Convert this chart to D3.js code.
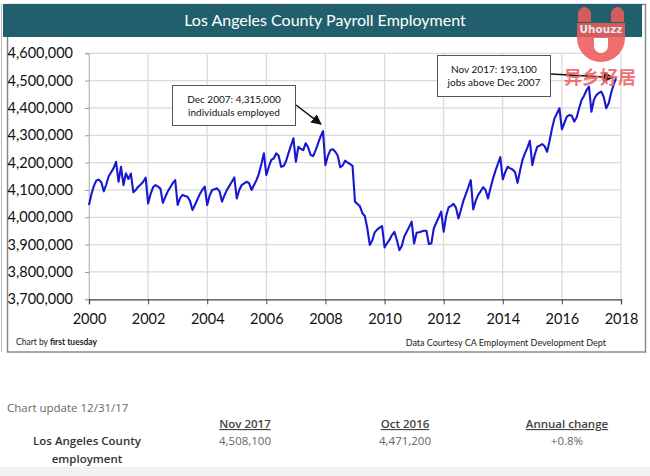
<!DOCTYPE html>
<html><head><meta charset="utf-8">
<script src="https://cdn.jsdelivr.net/npm/d3@7"></script>
<style>
html,body{margin:0;padding:0;background:#fff;}
svg{display:block;}
</style></head>
<body>
<svg id="c" width="650" height="476"></svg>
<script>
// ---- data ----
const title = "Los Angeles County Payroll Employment";
const startYear = 2000; // first value = Jan 2000, monthly through Nov 2017
const emp2000 = [4045,4085,4115,4135,4138,4128,4095,4120,4150,4165,4180,4203];
const emp2001 = [4130,4185,4118,4161,4140,4160,4092,4100,4112,4120,4130,4145];
const emp2002 = [4051,4085,4110,4118,4112,4105,4053,4075,4095,4110,4125,4136];
const emp2003 = [4045,4070,4082,4078,4075,4060,4027,4045,4065,4085,4100,4112];
const emp2004 = [4045,4080,4100,4103,4106,4095,4057,4080,4100,4115,4130,4146];
const emp2005 = [4069,4100,4118,4124,4130,4125,4100,4118,4136,4160,4195,4234];
const emp2006 = [4155,4185,4210,4215,4234,4225,4185,4188,4205,4235,4262,4289];
const emp2007 = [4203,4258,4250,4246,4271,4255,4228,4224,4245,4270,4295,4315];
const emp2008 = [4191,4225,4246,4249,4240,4225,4183,4190,4207,4200,4195,4188];
const emp2009 = [4057,4049,4040,4015,4005,3960,3899,3915,3945,3955,3962,3968];
const emp2010 = [3890,3905,3917,3935,3947,3917,3880,3895,3930,3947,3965,3984];
const emp2011 = [3904,3943,3945,3948,3951,3951,3902,3904,3960,3980,4000,4021];
const emp2012 = [3947,4005,4036,4042,4049,4035,3996,4027,4060,4085,4110,4136];
const emp2013 = [4029,4060,4082,4095,4110,4100,4069,4106,4140,4170,4195,4220];
const emp2014 = [4139,4165,4185,4179,4175,4165,4126,4170,4210,4234,4255,4280];
const emp2015 = [4191,4230,4258,4262,4268,4260,4240,4280,4325,4362,4380,4399];
const emp2016 = [4322,4345,4368,4374,4372,4350,4365,4399,4429,4445,4465,4478];
const emp2017 = [4386,4430,4447,4455,4460,4440,4399,4417,4455,4485,4508.1];
const xTicks = [2000,2002,2004,2006,2008,2010,2012,2014,2016,2018];
const yTicks = [3700000,3800000,3900000,4000000,4100000,4200000,4300000,4400000,4500000,4600000];
const note1 = ["Dec 2007: 4,315,000","individuals employed"];
const note2 = ["Nov 2017: 193,100","jobs above Dec 2007"];
const tableHeaders = ["Nov 2017","Oct 2016","Annual change"];
const tableValues = ["4,508,100","4,471,200","+0.8%"];
const tableRowLabel = ["Los Angeles County","employment"];

const allYears = [emp2000,emp2001,emp2002,emp2003,emp2004,emp2005,emp2006,emp2007,emp2008,
  emp2009,emp2010,emp2011,emp2012,emp2013,emp2014,emp2015,emp2016,emp2017];
const series = [];
allYears.forEach((arr,yi)=>arr.forEach((v,m)=>series.push({t:startYear+yi+m/12, v:v*1000})));

// ---- drawing ----
const svg = d3.select("#c");
svg.append("rect").attr("x",0).attr("y",467).attr("width",650).attr("height",9).attr("fill","#f2f2f2");
svg.append("rect").attr("x",7.5).attr("y",4.5).attr("width",638).attr("height",347.5)
  .attr("fill","#fff").attr("stroke","#8a8a8a").attr("stroke-width",1.5);
svg.append("line").attr("x1",1.5).attr("x2",1.5).attr("y1",4).attr("y2",352).attr("stroke","#bbb");
// title bar
svg.append("rect").attr("x",3).attr("y",4).attr("width",639).attr("height",33).attr("fill","#225f6d");
svg.append("text").attr("x",325).attr("y",26).attr("text-anchor","middle")
  .attr("font-family","Lato, 'Open Sans', sans-serif").attr("font-size",16).attr("fill","#fff").text(title);

const x = d3.scaleLinear().domain([2000,2018]).range([89,621]);
const y = d3.scaleLinear().domain([3700000,4600000]).range([299.3,53.3]);

const g = svg.append("g");
g.selectAll("line.hg").data(yTicks.slice(1)).enter().append("line")
  .attr("x1",x(2000)).attr("x2",x(2018)).attr("y1",d=>y(d)).attr("y2",d=>y(d))
  .attr("stroke","#d9d9d9").attr("stroke-width",1.2);
g.selectAll("line.vg").data(xTicks).enter().append("line")
  .attr("x1",d=>x(d)).attr("x2",d=>x(d)).attr("y1",y(4600000)).attr("y2",y(3700000))
  .attr("stroke","#d9d9d9").attr("stroke-width",1.2);

const ya = g.append("g").attr("transform",`translate(${x(2000)},0)`)
  .call(d3.axisLeft(y).tickValues(yTicks).tickFormat(d3.format(",")).tickSize(4).tickPadding(12));
ya.select(".domain").attr("stroke","#bdbdbd");
ya.selectAll(".tick line").attr("stroke","#999");
ya.selectAll("text").attr("font-family","Lato, sans-serif").attr("font-size",14.5).attr("fill","#111");

const xa = g.append("g").attr("transform",`translate(0,${y(3700000)})`)
  .call(d3.axisBottom(x).tickValues(xTicks).tickFormat(d3.format("d")).tickSize(5).tickPadding(9));
xa.select(".domain").attr("stroke","#444").attr("stroke-width",1.3);
xa.selectAll(".tick line").attr("stroke","#444");
xa.selectAll("text").attr("font-family","Lato, sans-serif").attr("font-size",14.5).attr("fill","#111");

const line = d3.line().x(d=>x(d.t)).y(d=>y(d.v));
g.append("path").datum(series).attr("d",line).attr("fill","none")
  .attr("stroke","#1717d2").attr("stroke-width",2.1).attr("stroke-linejoin","round");

svg.append("defs").append("marker").attr("id","ah").attr("viewBox","0 0 10 10")
  .attr("refX",9).attr("refY",5).attr("markerWidth",7).attr("markerHeight",7).attr("orient","auto")
  .append("path").attr("d","M0,0L10,5L0,10z").attr("fill","#111");

function note(box, lines, from, to){
  svg.append("rect").attr("x",box[0]).attr("y",box[1]).attr("width",box[2]).attr("height",box[3])
    .attr("fill","#fff").attr("stroke","#555").attr("stroke-width",1);
  lines.forEach((t,i)=>svg.append("text").attr("x",box[0]+box[2]/2).attr("y",box[1]+17+i*13)
    .attr("text-anchor","middle").attr("font-family","Lato, sans-serif").attr("font-size",10).attr("fill","#111").text(t));
  svg.append("line").attr("x1",from[0]).attr("y1",from[1]).attr("x2",to[0]).attr("y2",to[1])
    .attr("stroke","#111").attr("stroke-width",1.5).attr("marker-end","url(#ah)");
}
const pk = series.find(d=>Math.abs(d.t-(2007+11/12))<1e-6);
const last = series[series.length-1];
note([172.5,85.5,123,40], note1, [296,105], [x(pk.t)-2, y(pk.v)-7]);
note([437.5,55.5,113,41], note2, [551,74], [x(last.t)-3, y(last.v)-1]);

const f1 = svg.append("text").attr("x",16).attr("y",345).attr("font-family","Lato, sans-serif").attr("font-size",8.5).attr("fill","#222");
f1.append("tspan").text("Chart by ");
f1.append("tspan").attr("font-weight","bold").text("first tuesday");
svg.append("text").attr("x",606).attr("y",346).attr("text-anchor","end").attr("font-family","Lato, sans-serif")
  .attr("font-size",9).attr("fill","#222").text("Data Courtesy CA Employment Development Dept");

// watermark logo
const wm = svg.append("g").attr("opacity",0.88);
wm.append("path").attr("d","M578,22 L578,12 Q584.5,2 591,12 L591,22 Z").attr("fill","#ef5b5b");
wm.append("path").attr("d","M611,22 L611,12 Q617.5,2 624,12 L624,22 Z").attr("fill","#ef5b5b");
wm.append("path").attr("d","M577,23 L625,23 L625,38 A24,24 0 0 1 577,38 Z").attr("fill","#ef5b5b");
wm.append("path").attr("d","M594,38 L608,38 L608,46 A7,7 0 0 1 594,46 Z").attr("fill","#fff");
wm.append("text").attr("x",601).attr("y",33).attr("text-anchor","middle").attr("font-family","'DejaVu Sans', sans-serif")
  .attr("font-weight","bold").attr("font-size",10.5).attr("fill","#fff").text("Uhouzz");
wm.append("text").attr("x",600).attr("y",84).attr("text-anchor","middle").attr("font-family","'Noto Sans CJK SC', sans-serif")
  .attr("font-weight","bold").attr("font-size",18).attr("fill","#f06060").text("异乡好居");

const tf = "'Open Sans', sans-serif";
svg.append("text").attr("x",7).attr("y",412).attr("font-family",tf).attr("font-size",11.5).attr("fill","#666").text("Chart update 12/31/17");
const colX = [245,405,567];
tableHeaders.forEach((h,i)=>svg.append("text").attr("x",colX[i]).attr("y",428).attr("text-anchor","middle")
  .attr("font-family",tf).attr("font-size",11.5).attr("font-weight",600).attr("fill","#444")
  .attr("text-decoration","underline").text(h));
tableValues.forEach((h,i)=>svg.append("text").attr("x",colX[i]).attr("y",445).attr("text-anchor","middle")
  .attr("font-family",tf).attr("font-size",11.5).attr("fill","#666").text(h));
tableRowLabel.forEach((h,i)=>svg.append("text").attr("x",87).attr("y",445+i*18).attr("text-anchor","middle")
  .attr("font-family",tf).attr("font-size",11.5).attr("font-weight",600).attr("fill","#333").text(h));
</script>
</body></html>
